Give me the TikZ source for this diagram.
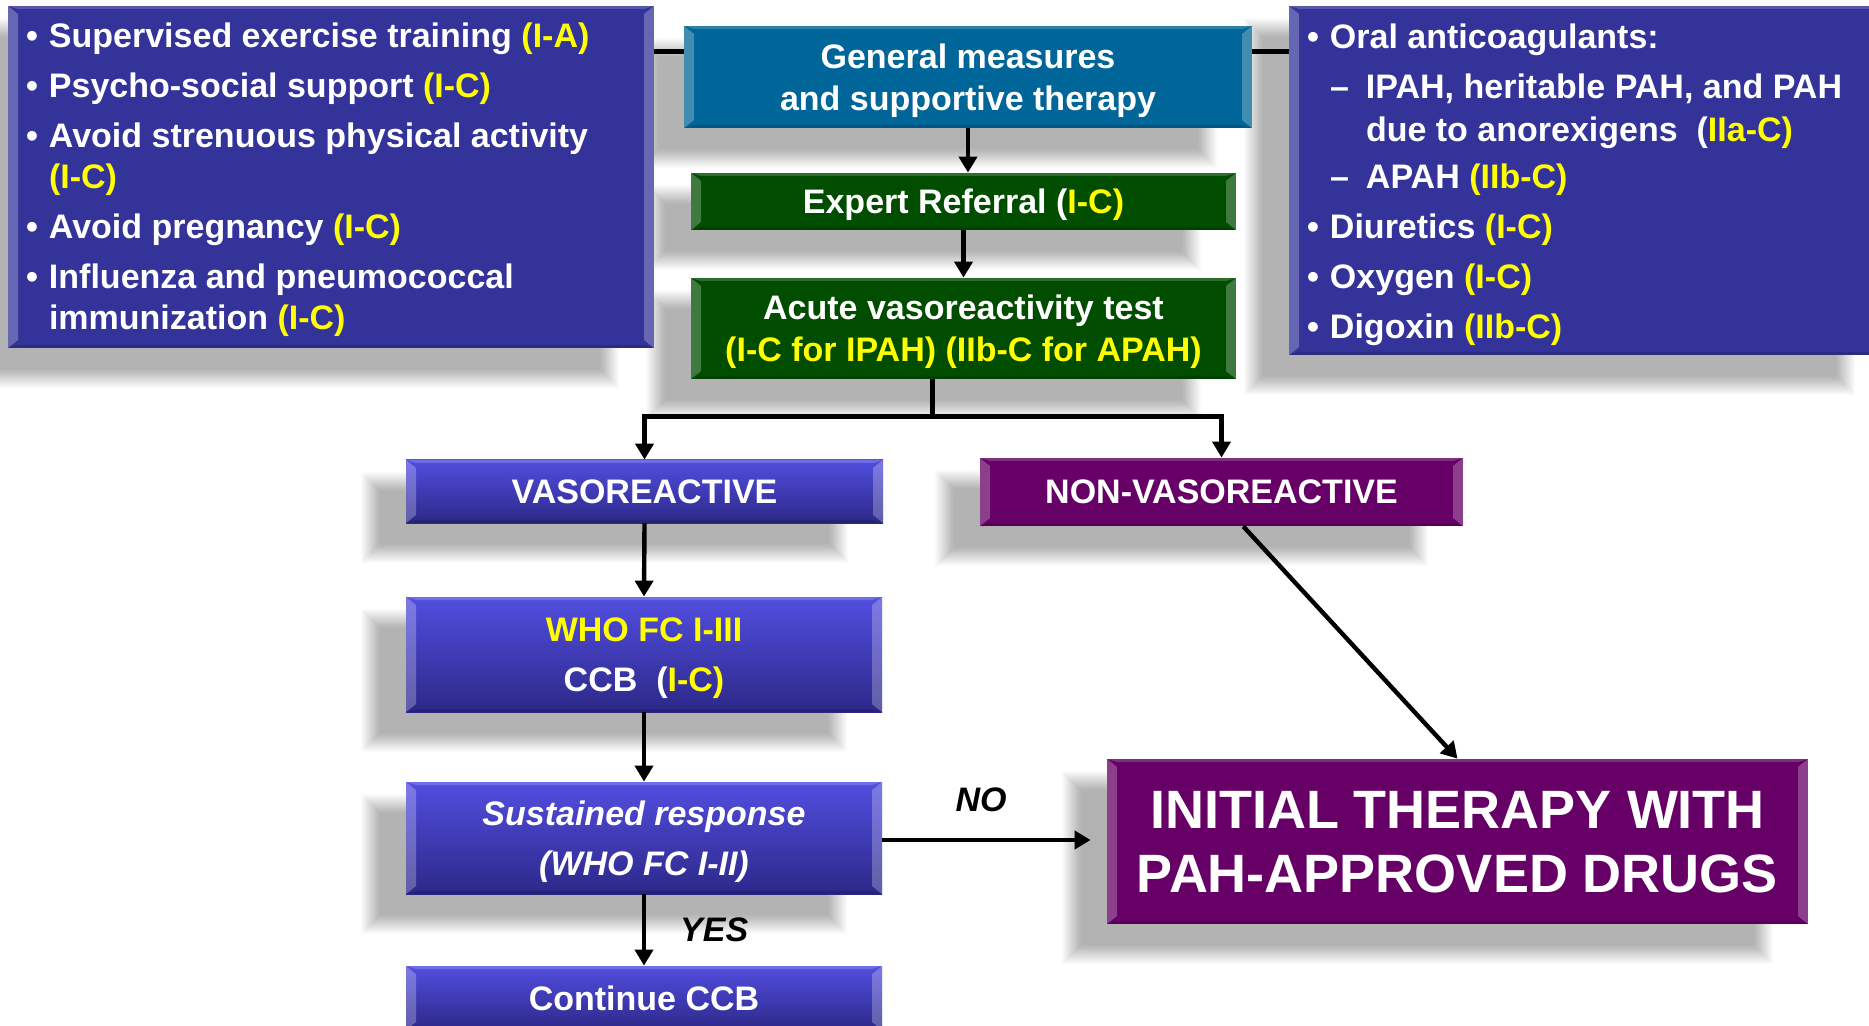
\documentclass[tikz,border=0pt]{standalone}
\usepackage{fontspec}
\setmainfont{Liberation Sans}
\usetikzlibrary{arrows.meta,calc,backgrounds}
\definecolor{boxnavy}{RGB}{51,51,153}
\definecolor{genblue}{RGB}{0,102,153}
\definecolor{dkgreen}{RGB}{0,77,0}
\definecolor{pahpurple}{RGB}{102,0,102}
\definecolor{vtop}{RGB}{82,78,224}
\definecolor{vbot}{RGB}{44,40,136}
\definecolor{yel}{RGB}{255,255,0}
\newcommand\yl[1]{\textcolor{yel}{#1}}
\newcommand\bul{\makebox[11.5pt][l]{•}}
\newcommand\ind{\hspace*{11.5pt}}
\newcommand\dropshadow[1]{%
  \foreach \k in {1,...,20}{%
    \fill[black,fill opacity=0.017]
      ($(#1.north west)+(-25-\k,32-\k)$) rectangle
      ($(#1.south east)+(-55+\k,20+\k)$);}}
\begin{document}
\begin{tikzpicture}[x=0.5pt,y=-0.5pt,
  base/.style={inner sep=0pt, text=white, align=center, text depth=-2pt,
    font=\bfseries\fontsize{17pt}{21pt}\selectfont},
  bevel/.style={path picture={
    \fill[white,fill opacity=0.25] (path picture bounding box.north west)
      -- ([xshift=5pt,yshift=-4pt]path picture bounding box.north west)
      -- ([xshift=5pt,yshift=4pt]path picture bounding box.south west)
      -- (path picture bounding box.south west) -- cycle;
    \fill[white,fill opacity=0.25] (path picture bounding box.north east)
      -- ([xshift=-5pt,yshift=-4pt]path picture bounding box.north east)
      -- ([xshift=-5pt,yshift=4pt]path picture bounding box.south east)
      -- (path picture bounding box.south east) -- cycle;
    \fill[white,fill opacity=0.18] (path picture bounding box.north west)
      -- (path picture bounding box.north east)
      -- ([xshift=-5pt,yshift=-1.5pt]path picture bounding box.north east)
      -- ([xshift=5pt,yshift=-1.5pt]path picture bounding box.north west) -- cycle;
    \fill[black,fill opacity=0.15] (path picture bounding box.south west)
      -- (path picture bounding box.south east)
      -- ([xshift=-5pt,yshift=1.5pt]path picture bounding box.south east)
      -- ([xshift=5pt,yshift=1.5pt]path picture bounding box.south west) -- cycle;
  }},
  vsty/.style={base, bevel, top color=vtop, bottom color=vbot},
  listtext/.style={inner sep=0pt, text=white, align=left, anchor=west},
  conn/.style={line width=2.3pt},
  arr/.style={line width=2.2pt, -{Triangle[width=9pt,length=8pt]}},
  lbl/.style={inner sep=0pt, font=\bfseries\itshape\fontsize{17pt}{21pt}\selectfont}
]
\useasboundingbox (0,0) rectangle (1869,1026);

% top row
\node[base, bevel, fill=boxnavy, minimum width=323pt, minimum height=171pt] (leftbox) at (331,177) {};
\node[listtext, font=\bfseries\fontsize{17pt}{20.5pt}\selectfont] (lefttext) at ($(leftbox.west)+(18,3)$)
 {\bul Supervised exercise training \yl{(I-A)}\\[4.5pt]
  \bul Psycho-social support \yl{(I-C)}\\[4.5pt]
  \bul Avoid strenuous physical activity\\
  \ind\yl{(I-C)}\\[4.5pt]
  \bul Avoid pregnancy \yl{(I-C)}\\[4.5pt]
  \bul Influenza and pneumococcal\\
  \ind immunization \yl{(I-C)}};

\node[base, bevel, fill=boxnavy, minimum width=300.5pt, minimum height=174.5pt] (rightbox) at (1589.5,180.5) {};
\node[listtext, font=\bfseries\fontsize{17pt}{21.5pt}\selectfont] (righttext) at ($(rightbox.west)+(18,4)$)
 {\bul Oral anticoagulants:\\[3.5pt]
  \hspace*{11.5pt}\makebox[18pt][l]{–}IPAH, heritable PAH, and PAH\\
  \hspace*{29.5pt}due to anorexigens\ \ (\yl{IIa-C)}\\[2pt]
  \hspace*{11.5pt}\makebox[18pt][l]{–}APAH \yl{(IIb-C)}\\[3.5pt]
  \bul Diuretics \yl{(I-C)}\\[3.5pt]
  \bul Oxygen \yl{(I-C)}\\[3.5pt]
  \bul Digoxin \yl{(IIb-C)}};

\node[base, bevel, fill=genblue, minimum width=284pt, minimum height=51pt] (gen) at (968,77)
 {General measures\\and supportive therapy};
\node[base, bevel, fill=dkgreen, minimum width=272.5pt, minimum height=28.5pt] (expert) at (963.5,201.5)
 {Expert Referral (\yl{I-C)}};
\node[base, bevel, fill=dkgreen, minimum width=272.5pt, minimum height=50.5pt] (acute) at (963.5,328.5)
 {Acute vasoreactivity test\\\yl{(I-C for IPAH) (IIb-C for APAH)}};

% lower part
\node[vsty, minimum width=238.5pt, minimum height=31.5pt] (vaso) at (644.5,491.5) {VASOREACTIVE};
\node[base, bevel, fill=pahpurple, minimum width=241.5pt, minimum height=34pt] (nonvaso) at (1221.5,492) {NON-VASOREACTIVE};
\node[vsty, minimum width=238pt, minimum height=57.5pt, font=\bfseries\fontsize{17pt}{25pt}\selectfont] (who) at (644,654.5)
 {\yl{WHO FC I-III}\\CCB\ \ (\yl{I-C)}};
\node[vsty, minimum width=238pt, minimum height=56pt, font=\bfseries\itshape\fontsize{17pt}{25pt}\selectfont] (sust) at (644,838)
 {Sustained response\\(WHO FC I-II)};
\node[vsty, minimum width=238pt, minimum height=32pt] (cont) at (644,998) {Continue CCB};
\node[base, bevel, fill=pahpurple, minimum width=350.5pt, minimum height=82.5pt, text depth=-4pt,
      font=\bfseries\fontsize{27pt}{32pt}\selectfont] (initial) at (1457.5,841.5)
 {INITIAL THERAPY WITH\\PAH-APPROVED DRUGS};

% connectors
\draw[conn] ($(gen.north west)+(0,26)$) coordinate (gl) -- (gl -| leftbox.east);
\draw[conn] ($(gen.north east)+(0,26)$) coordinate (gr) -- (gr -| rightbox.west);
\draw[arr] (gen.south) -- (gen.south |- expert.north);
\draw[arr] (expert.south) -- (acute.north);
\draw[conn] ($(acute.south)+(-31,0)$) -- ++(0,37) coordinate (split);
\draw[arr] (split) -| (vaso.north);
\draw[arr] (split) -| (nonvaso.north);
\draw[arr] (vaso.south) -- (who.north);
\draw[arr] (who.south) -- (sust.north);
\draw[arr] (sust.south) -- node[lbl, right=17pt] (yes) {YES} (cont.north);
\draw[arr, shorten >=8pt] ($(sust.east)+(0,2)$) coordinate (ne) -- node[lbl, pos=0.44, above=13pt] (no) {NO} (ne -| initial.west);
\draw[arr] ($(nonvaso.south west)!0.545!(nonvaso.south east)$) -- (initial.north);

% shadows and background
\begin{scope}[on background layer]
  \fill[white] (0,0) rectangle (1869,1026);
  \dropshadow{leftbox}
  \dropshadow{rightbox}
  \dropshadow{gen}
  \dropshadow{expert}
  \dropshadow{acute}
  \dropshadow{vaso}
  \dropshadow{nonvaso}
  \dropshadow{who}
  \dropshadow{sust}
  \dropshadow{initial}
\end{scope}
\end{tikzpicture}
\end{document}
